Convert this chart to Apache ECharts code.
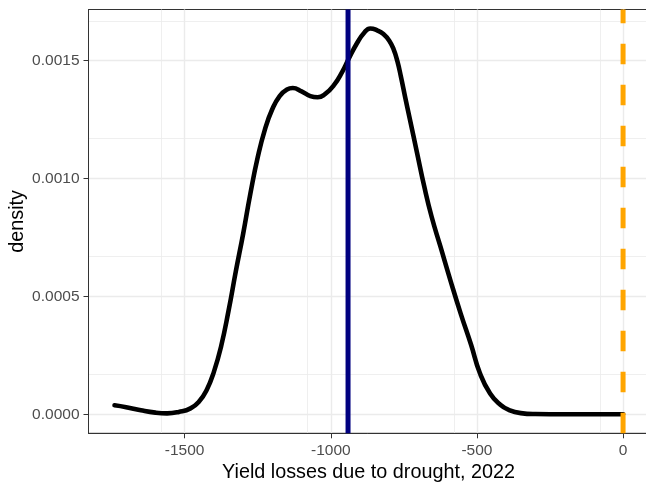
<!DOCTYPE html>
<html>
<head>
<meta charset="utf-8">
<script src="https://cdn.jsdelivr.net/npm/echarts@6/dist/echarts.min.js"></script>
<style>
  html, body { margin: 0; padding: 0; background: #fff; }
  #chart { width: 646px; height: 483px; }
</style>
</head>
<body>
<div id="chart"></div>
<script>
// ---- data ----
const lossValues = [-1740, -1700, -1650, -1600, -1560, -1520, -1480, -1450, -1425, -1400,
  -1375, -1350, -1325, -1300, -1275, -1250, -1225, -1200, -1175, -1150,
  -1130, -1100, -1070, -1045, -1020, -990, -960, -940, -910, -885,
  -865, -840, -820, -800, -785, -772, -760, -745, -730, -705, -680, -655, -625,
  -590, -555, -520, -490, -455, -420, -390, -350, -300, -200, -100, 0];
const densityValues = [0.000038, 0.000030, 0.000017, 0.000007, 0.000004, 0.000010, 0.000025, 0.000055, 0.000102, 0.000180,
  0.000290, 0.000438, 0.000606, 0.000765, 0.000937, 0.001090, 0.001210, 0.001295, 0.001350, 0.001378,
  0.001384, 0.001370, 0.001350, 0.001345, 0.001358, 0.001395, 0.001455, 0.001505, 0.001575, 0.001620,
  0.001637, 0.001628, 0.001613, 0.001585, 0.001548, 0.001497, 0.001432, 0.001342, 0.001255, 0.001110, 0.000965, 0.000838, 0.000712,
  0.000565, 0.000425, 0.000295, 0.000175, 0.000088, 0.000040, 0.000018, 0.000005, 0.000001, 0, 0, 0];
const meanLoss = -941;      // navy vertical line
const referenceLoss = 0;    // orange dashed line
const xTicks = [-1500, -1000, -500, 0];
const yTicks = [0, 0.0005, 0.0010, 0.0015];
const xLimits = [-1829, 87];
const yLimits = [-0.0000807, 0.0017173];
const xTitle = 'Yield losses due to drought, 2022';
const yTitle = 'density';

const FONT = "'Liberation Sans', Arial, sans-serif";
const chart = echarts.init(document.getElementById('chart'), null, { renderer: 'canvas' });

chart.setOption({
  animation: false,
  backgroundColor: '#ffffff',
  grid: {
    left: 88.5, top: 9.5, right: -2.5, bottom: 49.7,
    containLabel: false, outerBoundsMode: 'none',
    show: true, borderColor: '#333333', borderWidth: 1, backgroundColor: 'transparent'
  },
  xAxis: {
    type: 'value',
    min: xLimits[0], max: xLimits[1], interval: 500,
    name: xTitle, nameLocation: 'middle', nameGap: 29.5, nameMoveOverlap: false,
    nameTextStyle: { fontFamily: FONT, fontSize: 19.8, color: '#000' },
    axisLine: { show: true, onZero: false, lineStyle: { color: '#333', width: 1 } },
    axisTick: { show: true, length: 5, lineStyle: { color: '#333', width: 1 }, customValues: xTicks },
    axisLabel: { customValues: xTicks, margin: 9, fontFamily: FONT, fontSize: 15.5, color: '#4D4D4D',
      formatter: v => String(v) },
    splitLine: { show: true, lineStyle: { color: '#EBEBEB', width: 1.4 } },
    minorTick: { show: false, splitNumber: 2 },
    minorSplitLine: { show: true, lineStyle: { color: '#EBEBEB', width: 0.8 } }
  },
  yAxis: {
    type: 'value',
    min: yLimits[0], max: yLimits[1], interval: 0.0005,
    name: yTitle, nameLocation: 'middle', nameGap: 61, nameRotate: 90, nameMoveOverlap: false,
    nameTextStyle: { fontFamily: FONT, fontSize: 19.8, color: '#000' },
    axisLine: { show: true, onZero: false, lineStyle: { color: '#333', width: 1 } },
    axisTick: { show: true, length: 5, lineStyle: { color: '#333', width: 1 }, customValues: yTicks },
    axisLabel: { customValues: yTicks, margin: 9, fontFamily: FONT, fontSize: 15.5, color: '#4D4D4D',
      formatter: v => Number(v).toFixed(4) },
    splitLine: { show: true, lineStyle: { color: '#EBEBEB', width: 1.4 } },
    minorTick: { show: false, splitNumber: 2 },
    minorSplitLine: { show: true, lineStyle: { color: '#EBEBEB', width: 0.8 } }
  },
  series: [
    {
      type: 'line',
      data: lossValues.map((x, i) => [x, densityValues[i]]),
      smooth: true,
      showSymbol: false,
      lineStyle: { color: '#000000', width: 4.6, cap: 'round', join: 'round' },
      z: 3
    },
    {
      type: 'line',
      data: [[meanLoss, yLimits[0]], [meanLoss, yLimits[1]]],
      showSymbol: false,
      lineStyle: { color: '#000080', width: 5 },
      z: 4
    },
    {
      type: 'line',
      data: [[referenceLoss, yLimits[0]], [referenceLoss, yLimits[1]]],
      showSymbol: false,
      lineStyle: { color: '#FFA500', width: 5, type: [20.5, 20.5], cap: 'butt' },
      z: 5
    }
  ]
});
</script>
</body>
</html>
